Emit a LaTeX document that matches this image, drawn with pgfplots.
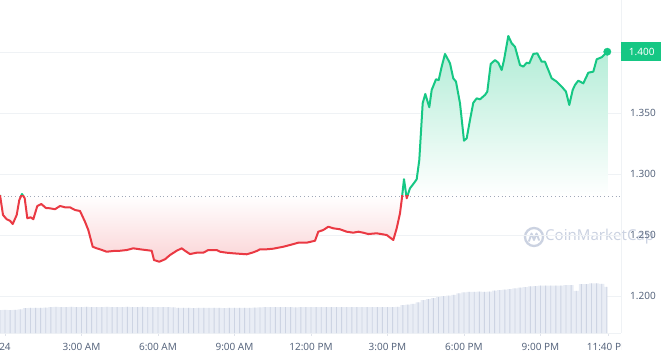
\documentclass[border=0pt]{standalone}
\usepackage{pgfplots}
\pgfplotsset{compat=1.18}
\usepackage{pgfplotstable}
\usepackage{fontspec}
\setmainfont{Noto Sans}
\definecolor{cmcgreen}{HTML}{16C784}
\definecolor{cmcred}{HTML}{EA3943}
\definecolor{cmcgrey}{HTML}{58667E}
\definecolor{gridc}{HTML}{EFF2F5}
\definecolor{tickc}{HTML}{E0E3EB}
\definecolor{volfill}{HTML}{E9EDF5}
\definecolor{volline}{HTML}{CDD4E3}
\definecolor{wm}{HTML}{CBD2E1}
\definecolor{dotc}{HTML}{A0A8B8}

\pgfplotstableread{
h p
-0.196 1.2828
-0.078 1.2664
0.067 1.2629
0.196 1.2617
0.302 1.2590
0.459 1.2664
0.561 1.2787
0.667 1.2836
0.773 1.2801
0.875 1.2637
1.008 1.2645
1.110 1.2629
1.267 1.2738
1.424 1.2754
1.608 1.2721
1.765 1.2719
1.961 1.2711
2.157 1.2738
2.353 1.2727
2.549 1.2727
2.745 1.2705
2.941 1.2697
3.137 1.2609
3.267 1.2541
3.439 1.2404
3.596 1.2391
3.725 1.2383
3.988 1.2363
4.247 1.2369
4.510 1.2371
4.773 1.2377
5.031 1.2391
5.294 1.2383
5.753 1.2371
5.843 1.2295
6.051 1.2281
6.275 1.2301
6.471 1.2336
6.733 1.2371
6.929 1.2391
7.059 1.2371
7.255 1.2344
7.518 1.2355
7.776 1.2355
7.973 1.2377
8.302 1.2377
8.431 1.2363
8.694 1.2355
8.953 1.2350
9.345 1.2344
9.478 1.2342
9.737 1.2358
9.894 1.2371
10.000 1.2383
10.263 1.2383
10.522 1.2388
10.914 1.2404
11.176 1.2418
11.502 1.2437
11.831 1.2437
12.157 1.2453
12.286 1.2527
12.482 1.2541
12.678 1.2568
12.875 1.2555
13.137 1.2547
13.400 1.2527
13.659 1.2519
13.855 1.2527
14.051 1.2519
14.247 1.2508
14.576 1.2514
14.969 1.2500
15.227 1.2459
15.361 1.2555
15.490 1.2678
15.557 1.2787
15.647 1.2957
15.753 1.2801
15.882 1.2883
16.012 1.2918
16.145 1.2957
16.247 1.3115
16.380 1.3580
16.482 1.3656
16.639 1.3547
16.733 1.3689
16.902 1.3776
17.008 1.3770
17.125 1.3880
17.255 1.3984
17.384 1.3934
17.451 1.3907
17.580 1.3784
17.686 1.3757
17.843 1.3580
18.000 1.3273
18.106 1.3293
18.235 1.3443
18.365 1.3584
18.498 1.3620
18.627 1.3612
18.824 1.3648
18.914 1.3675
19.047 1.3902
19.216 1.3934
19.345 1.3912
19.478 1.3852
19.569 1.3934
19.737 1.4131
19.871 1.4071
20.000 1.4043
20.196 1.3893
20.325 1.3880
20.459 1.3912
20.561 1.3907
20.718 1.3984
20.875 1.3989
21.047 1.3920
21.176 1.3920
21.439 1.3784
21.635 1.3757
21.831 1.3716
22.000 1.3675
22.129 1.3566
22.263 1.3689
22.353 1.3730
22.482 1.3765
22.678 1.3743
22.875 1.3830
23.071 1.3839
23.204 1.3940
23.400 1.3957
23.620 1.4002
}\price

\pgfplotstableread{
h v
-0.2 1.1885
0.0 1.1886
0.2 1.1885
0.4 1.1887
0.6 1.1890
0.8 1.1900
1.0 1.1902
1.2 1.1902
1.4 1.1903
1.6 1.1905
1.8 1.1910
2.0 1.1911
2.2 1.1910
2.4 1.1910
2.6 1.1911
2.8 1.1910
3.0 1.1910
3.2 1.1911
3.4 1.1910
3.6 1.1910
3.8 1.1910
4.0 1.1911
4.2 1.1910
4.4 1.1910
4.6 1.1910
4.8 1.1911
5.0 1.1910
5.2 1.1910
5.4 1.1911
5.6 1.1910
5.8 1.1910
6.0 1.1910
6.2 1.1910
6.4 1.1909
6.6 1.1906
6.8 1.1902
7.0 1.1902
7.2 1.1902
7.4 1.1901
7.6 1.1902
7.8 1.1902
8.0 1.1902
8.2 1.1902
8.4 1.1902
8.6 1.1901
8.8 1.1902
9.0 1.1902
9.2 1.1902
9.4 1.1902
9.6 1.1902
9.8 1.1904
10.0 1.1906
10.2 1.1910
10.4 1.1910
10.6 1.1910
10.8 1.1910
11.0 1.1909
11.2 1.1910
11.4 1.1906
11.6 1.1910
11.8 1.1910
12.0 1.1910
12.2 1.1910
12.4 1.1910
12.6 1.1910
12.8 1.1910
13.0 1.1910
13.2 1.1910
13.4 1.1910
13.6 1.1910
13.8 1.1910
14.0 1.1910
14.2 1.1910
14.4 1.1910
14.6 1.1910
14.8 1.1910
15.0 1.1910
15.2 1.1910
15.4 1.1912
15.6 1.1926
15.8 1.1930
16.0 1.1936
16.2 1.1948
16.4 1.1967
16.6 1.1975
16.8 1.1983
17.0 1.1990
17.2 1.2000
17.4 1.2004
17.6 1.2010
17.8 1.2022
18.0 1.2030
18.2 1.2035
18.4 1.2035
18.6 1.2036
18.8 1.2035
19.0 1.2036
19.2 1.2045
19.4 1.2048
19.6 1.2052
19.8 1.2057
20.0 1.2062
20.2 1.2068
20.4 1.2072
20.6 1.2080
20.8 1.2082
21.0 1.2085
21.2 1.2086
21.4 1.2085
21.6 1.2086
21.8 1.2085
22.0 1.2090
22.2 1.2090
22.4 1.2043
22.6 1.2098
22.8 1.2098
23.0 1.2104
23.2 1.2104
23.4 1.2100
23.6 1.2076
}\vol

\begin{document}
\begin{tikzpicture}
% watermark
\draw[wm, line width=2.3pt] (534pt,119pt) circle (9pt);
\draw[wm, line width=1.9pt, line join=round, line cap=round] (529pt,115pt) -- (531.5pt,122.5pt) -- (534pt,116pt) -- (536.5pt,122.5pt) -- (539pt,116pt);
\node[wm, font=\bfseries\fontsize{15}{17}\selectfont, anchor=west, inner sep=0pt] at (545pt,119pt) {CoinMarketCap};

\begin{axis}[
  at={(0pt,23pt)}, anchor=south west,
  scale only axis, width=621pt, height=333pt,
  xmin=-0.196, xmax=24.157, ymin=1.1697, ymax=1.4426,
  axis x line*=bottom, axis y line*=right,
  axis line style={draw=gridc, line width=0.8pt},
  ytick={1.2,1.25,1.3,1.35,1.4},
  yticklabels={1.200,1.250,1.300,1.350,{}},
  ymajorgrids,
  major grid style={draw=gridc, line width=0.8pt},
  ytick style={draw=none},
  yticklabel style={anchor=west, inner sep=0pt, xshift=6pt, font=\fontsize{10}{12}\selectfont, text=cmcgrey},
  xtick={0,3,6,9,12,15,18,21,23.667},
  xticklabels={{\bfseries 24},3:00 AM,6:00 AM,9:00 AM,12:00 PM,3:00 PM,6:00 PM,9:00 PM,11:40 PM},
  xticklabel style={anchor=base, yshift=-14pt, font=\fontsize{10}{12}\selectfont, text=cmcgrey},
  xtick style={draw=tickc, line width=0.8pt},
  major tick length=3pt, tick align=outside,
]
% volume
\addplot[const plot mark mid, fill=volfill, draw=none, mark=none] table[x=h,y=v] {\vol} \closedcycle;
\addplot[ybar, bar width=0.9pt, fill=volline, draw=none, mark=none] table[x=h,y=v] {\vol};

% price area (green above the baseline, red below it)
\addplot[draw=none, mark=none, top color=cmcgreen!35, bottom color=white]
  table[x=h, y expr={max(\thisrow{p},1.282)}] {\price}
  -- (axis cs:23.62,1.282) -- (axis cs:-0.196,1.282) -- cycle;
\addplot[draw=none, mark=none, top color=white, bottom color=cmcred!22]
  table[x=h, y expr={min(\thisrow{p},1.282)}] {\price}
  -- (axis cs:23.62,1.282) -- (axis cs:-0.196,1.282) -- cycle;

% baseline
\addplot[dotc, mark=none, line width=0.8pt, dash pattern=on 0.8pt off 3pt] coordinates {(-0.196,1.282) (24.1,1.282)};

% line
\begin{scope}
\clip (axis cs:-1,1.282) rectangle (axis cs:25,1.5);
\addplot[cmcgreen, mark=none, line width=2pt, line join=round] table[x=h,y=p] {\price};
\end{scope}
\begin{scope}
\clip (axis cs:-1,1.1) rectangle (axis cs:25,1.282);
\addplot[cmcred, mark=none, line width=2pt, line join=round] table[x=h,y=p] {\price};
\end{scope}

\addplot[only marks, mark=*, mark size=3.7pt, cmcgreen] coordinates {(23.62,1.4002)};
\coordinate (lastp) at (axis cs:24.157,1.4002);
\end{axis}

\node[anchor=west, fill=cmcgreen, text=white, font=\bfseries\fontsize{10}{12}\selectfont, minimum width=41pt, minimum height=19pt, inner sep=0pt] at (lastp) {1.400};
\fill[white] (621.5pt,0pt) rectangle (661pt,22pt);

\pgfresetboundingbox
\path[use as bounding box] (0pt,0pt) rectangle (661pt,356pt);
\end{tikzpicture}
\end{document}
